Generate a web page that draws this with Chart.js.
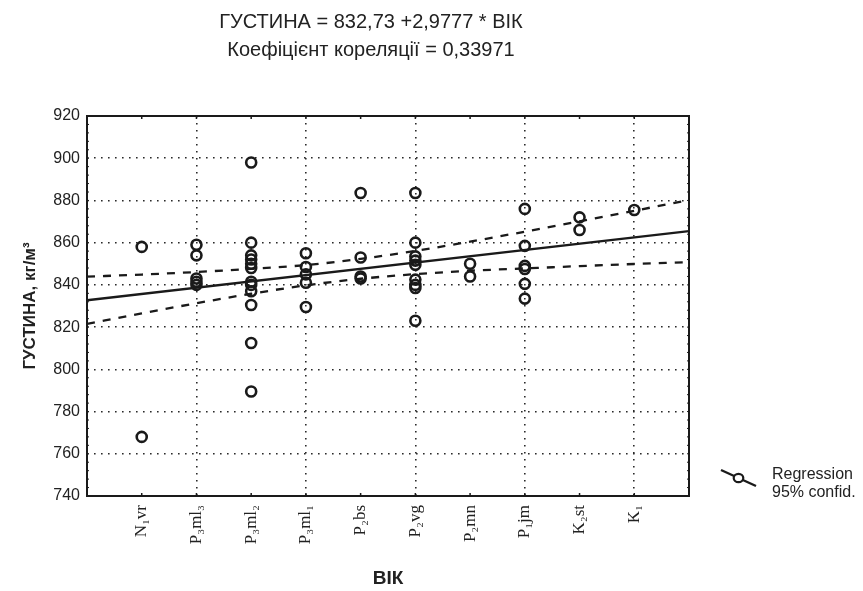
<!DOCTYPE html>
<html>
<head>
<meta charset="utf-8">
<script src="https://cdn.jsdelivr.net/npm/chart.js@4/dist/chart.umd.min.js"></script>
<style>
  html, body { margin: 0; padding: 0; background: #ffffff; }
  #wrap { width: 863px; height: 591px; }
</style>
</head>
<body>
<div id="wrap"><canvas id="c" width="863" height="591"></canvas></div>
<script>
// ---- data ----
const categories = ['N\u2081vr', 'P\u2083ml\u2083', 'P\u2083ml\u2082', 'P\u2083ml\u2081', 'P\u2082bs', 'P\u2082vg', 'P\u2082mn', 'P\u2081jm', 'K\u2082st', 'K\u2081'];
const valsN1vr  = [858, 768];
const valsP3ml3 = [859, 854, 843, 841.5, 840];
const valsP3ml2 = [898, 860, 854, 852, 850, 848, 841.5, 840, 837, 830.5, 812.5, 789.5];
const valsP3ml1 = [855, 848.5, 845, 841, 829.5];
const valsP2bs  = [883.5, 853, 844, 843];
const valsP2vg  = [883.5, 860, 853.5, 851.5, 849.5, 842.5, 840, 838.5, 823];
const valsP2mn  = [850, 844];
const valsP1jm  = [876, 858.5, 849, 847.5, 840.5, 833.5];
const valsK2st  = [872, 866];
const valsK1    = [875.5];
const groups = [valsN1vr, valsP3ml3, valsP3ml2, valsP3ml1, valsP2bs, valsP2vg, valsP2mn, valsP1jm, valsK2st, valsK1];

const regX = [0, 11];
const regY = [832.73, 865.48];
const bandX     = [0, 1, 2, 3, 4, 5, 6, 7, 8, 9, 10, 11];
const bandUpper = [843.9, 844.9, 846.1, 847.6, 849.4, 852.3, 856.1, 860.5, 865.2, 870.1, 875.1, 880.2];
const bandLower = [821.5, 826.5, 831.3, 835.8, 839.8, 842.9, 845.1, 846.7, 847.8, 848.9, 849.9, 850.8];
const yTicks = [740, 760, 780, 800, 820, 840, 860, 880, 900, 920];

const titleLines = ['\u0413\u0423\u0421\u0422\u0418\u041d\u0410 = 832,73 +2,9777 * \u0412\u0406\u041a', '\u041a\u043e\u0435\u0444\u0456\u0446\u0456\u0454\u043d\u0442 \u043a\u043e\u0440\u0435\u043b\u044f\u0446\u0456\u0457 = 0,33971'];
const yTitle = '\u0413\u0423\u0421\u0422\u0418\u041d\u0410, \u043a\u0433/\u043c\u00b3';
const xTitle = '\u0412\u0406\u041a';
const legendLabels = ['Regression', '95% confid.'];

// ---- build datasets ----
const scatterPts = [];
groups.forEach((g, i) => g.forEach(v => scatterPts.push({ x: i + 1, y: v })));
const regPts = regX.map((x, i) => ({ x, y: regY[i] }));
const upPts = bandX.map((x, i) => ({ x, y: bandUpper[i] }));
const loPts = bandX.map((x, i) => ({ x, y: bandLower[i] }));

const INK = '#1a1a1a';
const GRID = '#2a2a2a';
const sans = "'Liberation Sans', Arial, sans-serif";
const serif = "'Liberation Serif', 'DejaVu Serif', serif";

const framePlugin = {
  id: 'frame',
  afterDraw(chart) {
    const { ctx, chartArea: a, scales } = chart;
    ctx.save();
    ctx.strokeStyle = INK;
    ctx.lineWidth = 2;
    ctx.strokeRect(a.left, a.top, a.right - a.left, a.bottom - a.top);
    ctx.lineWidth = 1.5;
    for (let i = 1; i <= 10; i++) {
      const px = scales.x.getPixelForValue(i);
      ctx.beginPath();
      ctx.moveTo(px, a.bottom); ctx.lineTo(px, a.bottom - 3);
      ctx.moveTo(px, a.top); ctx.lineTo(px, a.top + 3);
      ctx.stroke();
    }
    ctx.lineWidth = 1;
    for (let v = 740; v <= 920; v += 4) {
      const py = scales.y.getPixelForValue(v);
      ctx.beginPath();
      ctx.moveTo(a.left, py); ctx.lineTo(a.left + 2, py);
      ctx.moveTo(a.right, py); ctx.lineTo(a.right - 2, py);
      ctx.stroke();
    }
    // title (two lines)
    ctx.fillStyle = '#222';
    ctx.font = '20px ' + sans;
    ctx.textAlign = 'center';
    ctx.textBaseline = 'middle';
    ctx.fillText(titleLines[0], 371, 22);
    ctx.fillText(titleLines[1], 371, 50);
    // legend
    const lx0 = 721, ly0 = 470, lx1 = 756, ly1 = 486;
    ctx.strokeStyle = INK;
    ctx.lineWidth = 2.4;
    ctx.beginPath(); ctx.moveTo(lx0, ly0); ctx.lineTo(lx1, ly1); ctx.stroke();
    ctx.fillStyle = '#fff';
    ctx.lineWidth = 2.2;
    ctx.beginPath(); ctx.ellipse((lx0 + lx1) / 2, (ly0 + ly1) / 2, 4.8, 4.2, 0, 0, Math.PI * 2); ctx.fill(); ctx.stroke();
    ctx.fillStyle = '#222';
    ctx.font = '16px ' + sans;
    ctx.textAlign = 'left';
    ctx.fillText(legendLabels[0], 772, 475);
    ctx.fillText(legendLabels[1], 772, 493);
    ctx.restore();
  }
};

new Chart(document.getElementById('c'), {
  type: 'scatter',
  data: {
    datasets: [
      { data: scatterPts, pointStyle: 'circle', pointRadius: 5, pointBorderWidth: 2.6, borderColor: INK, backgroundColor: 'rgba(0,0,0,0)', order: 0 },
      { type: 'line', data: regPts, borderColor: INK, borderWidth: 2.4, pointRadius: 0, fill: false, order: 1 },
      { type: 'line', data: upPts, borderColor: INK, borderWidth: 2.3, borderDash: [8, 8], pointRadius: 0, cubicInterpolationMode: 'monotone', fill: false, order: 2 },
      { type: 'line', data: loPts, borderColor: INK, borderWidth: 2.3, borderDash: [8, 8], pointRadius: 0, cubicInterpolationMode: 'monotone', fill: false, order: 2 }
    ]
  },
  options: {
    responsive: false,
    animation: false,
    layout: { padding: { top: 116, right: 174, bottom: 0, left: 0 } },
    plugins: { legend: { display: false }, title: { display: false }, tooltip: { enabled: false } },
    scales: {
      x: {
        type: 'linear', min: 0, max: 11,
        afterFit(s) { s.height = 95; },
        border: { display: false, dash: [1.6, 5.4] },
        grid: {
          drawTicks: false,
          lineWidth: 1.6,
          color: (c) => (c.tick && c.tick.value % 2 === 0 && c.tick.value > 0 && c.tick.value < 11) ? GRID : 'rgba(0,0,0,0)'
        },
        ticks: {
          stepSize: 1, autoSkip: false, maxRotation: 90, minRotation: 90, padding: 9,
          color: '#222', font: { family: serif, size: 17 },
          callback: (v) => categories[v - 1] || ''
        },
        title: { display: true, text: xTitle, color: '#222', font: { family: sans, size: 19, weight: 'bold' }, padding: { top: 0, bottom: 1 } }
      },
      y: {
        min: 740, max: 920,
        afterFit(s) { s.width = 87; },
        afterBuildTicks(s) { s.ticks = yTicks.map(v => ({ value: v })); },
        border: { display: false, dash: [1.6, 5.4] },
        grid: {
          drawTicks: false,
          lineWidth: 1.6,
          color: (c) => (c.tick && c.tick.value > 740 && c.tick.value < 920) ? GRID : 'rgba(0,0,0,0)'
        },
        ticks: { padding: 7, color: '#222', font: { family: sans, size: 16 } },
        title: { display: true, text: yTitle, color: '#222', font: { family: sans, size: 17, weight: 'bold' }, padding: { top: 20, bottom: 0 } }
      }
    }
  },
  plugins: [framePlugin]
});
</script>
</body>
</html>
